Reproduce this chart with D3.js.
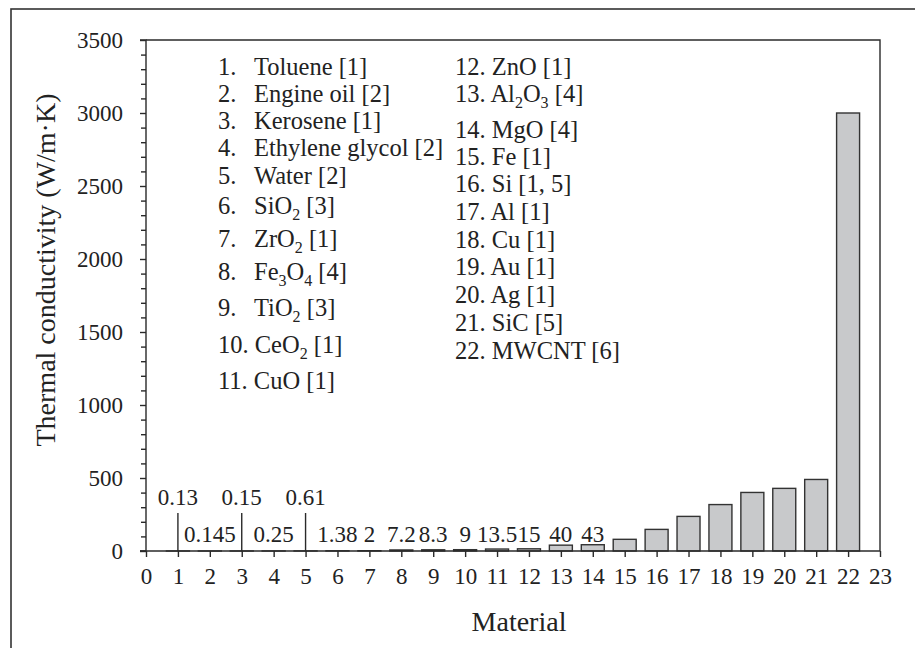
<!DOCTYPE html>
<html>
<head>
<meta charset="utf-8">
<script src="https://cdn.jsdelivr.net/npm/d3@7"></script>
<style>
  html, body { margin: 0; padding: 0; background: #fff; }
  svg { display: block; }
  text { font-family: "Liberation Serif", "DejaVu Serif", serif; fill: #222; }
</style>
</head>
<body>
<svg id="chart" width="915" height="648"></svg>
<script>
// Material index on the x axis (1..22)
const materials = [1, 2, 3, 4, 5, 6, 7, 8, 9, 10, 11, 12, 13, 14, 15, 16, 17, 18, 19, 20, 21, 22];
// Thermal conductivity, W/(m·K)
const conductivity = [0.13, 0.145, 0.15, 0.25, 0.61, 1.38, 2, 7.2, 8.3, 9, 13.5, 15, 40, 43,
                      80, 148, 237, 318, 401, 429, 490, 3000];
// Printed value labels (only the first 14 are annotated)
const valueLabels = ["0.13", "0.145", "0.15", "0.25", "0.61", "1.38", "2", "7.2", "8.3", "9",
                     "13.5", "15", "40", "43"];
// Legend entries; "_n" marks a subscript digit
const legendNames = ["Toluene [1]", "Engine oil [2]", "Kerosene [1]", "Ethylene glycol [2]",
  "Water [2]", "SiO_2 [3]", "ZrO_2 [1]", "Fe_3O_4 [4]", "TiO_2 [3]", "CeO_2 [1]", "CuO [1]",
  "ZnO [1]", "Al_2O_3 [4]", "MgO [4]", "Fe [1]", "Si [1, 5]", "Al [1]", "Cu [1]", "Au [1]",
  "Ag [1]", "SiC [5]", "MWCNT [6]"];
const xTicks = d3.range(0, 24);
const yMajorTicks = [0, 500, 1000, 1500, 2000, 2500, 3000, 3500];
const yMinorStep = 100;

const svg = d3.select("#chart");
const INK = "#2a2a2a";

// outer frame
svg.append("rect")
  .attr("x", 11).attr("y", 9).attr("width", 930).attr("height", 660)
  .attr("fill", "none").attr("stroke", "#333").attr("stroke-width", 1.6);

const plot = { left: 146, right: 880, top: 40, bottom: 551 };
const x = d3.scaleLinear().domain([0, 23]).range([plot.left, plot.right]);
const y = d3.scaleLinear().domain([0, 3500]).range([plot.bottom, plot.top]);
const barW = (x(1) - x(0)) * 0.72;

// plot box (top and right edges)
svg.append("path")
  .attr("d", `M${plot.left},${plot.top}H${plot.right}V${plot.bottom}`)
  .attr("fill", "none").attr("stroke", INK).attr("stroke-width", 1.4);

// bars
svg.append("g").selectAll("rect")
  .data(materials)
  .join("rect")
  .attr("x", (d) => x(d) - barW / 2)
  .attr("y", (d, i) => y(conductivity[i]))
  .attr("width", barW)
  .attr("height", (d, i) => y(0) - y(conductivity[i]))
  .attr("fill", "#c8c9cb")
  .attr("stroke", "#333")
  .attr("stroke-width", 1.4);

// y axis: minor ticks every 100, labels on the 500s
const yAxis = d3.axisLeft(y)
  .tickValues(d3.range(0, 3500 + 1, yMinorStep))
  .tickSize(5)
  .tickPadding(18)
  .tickFormat((d) => (yMajorTicks.includes(d) ? d : ""));
const gy = svg.append("g").attr("transform", `translate(${plot.left},0)`).call(yAxis);
gy.select(".domain").attr("d", `M-6,${plot.top}H0V${plot.bottom}H-6`);
gy.selectAll(".tick").filter((d) => yMajorTicks.includes(d)).select("line").attr("x2", -6);
gy.selectAll(".tick").filter((d) => !yMajorTicks.includes(d)).select("text").remove();

// x axis
const xAxis = d3.axisBottom(x).tickValues(xTicks).tickSize(6).tickPadding(11).tickFormat(d3.format("d"));
const gx = svg.append("g").attr("transform", `translate(0,${plot.bottom})`).call(xAxis);

[gx, gy].forEach((g) => {
  g.selectAll("path, line").attr("stroke", INK).attr("stroke-width", 1.4);
  g.selectAll("text").style("font-family", '"Liberation Serif", serif').style("font-size", "23px").attr("fill", "#222");
});
gx.select(".domain").attr("d", `M${plot.left - 6},0H${plot.right}`);

// value labels: odd materials 1,3,5 sit on a raised row with a leader line
const raised = (m) => m <= 5 && m % 2 === 1;
const labelG = svg.append("g");
valueLabels.forEach((t, i) => {
  const m = materials[i];
  labelG.append("text")
    .attr("x", x(m))
    .attr("y", raised(m) ? 505 : 542)
    .attr("text-anchor", "middle")
    .style("font-size", "23px")
    .text(t);
  if (raised(m)) {
    labelG.append("line")
      .attr("x1", x(m)).attr("x2", x(m))
      .attr("y1", 513).attr("y2", y(conductivity[i]))
      .attr("stroke", INK).attr("stroke-width", 1.4);
  }
});

// legend text with subscript digits
function addRich(sel, str) {
  const parts = str.split(/_(\d)/);
  let shift = 0;
  parts.forEach((p, k) => {
    if (!p) return;
    const sub = k % 2 === 1;
    const dy = (sub ? 6 : 0) - shift;
    shift = sub ? 6 : 0;
    const ts = sel.append("tspan").text(p);
    if (dy) ts.attr("dy", dy);
    if (sub) ts.style("font-size", "16px");
  });
}
const col1Y = [75, 102, 129, 156, 184, 214, 247, 280, 316, 353, 389];
const col2Y = [75, 102, 138, 165, 192, 220, 248, 275, 303, 331, 359];
const legend = svg.append("g").style("font-size", "24.5px");
legendNames.forEach((name, i) => {
  const n = materials[i];
  if (i < 9) {
    legend.append("text").attr("x", 218).attr("y", col1Y[i]).text(n + ".");
    addRich(legend.append("text").attr("x", 254).attr("y", col1Y[i]), name);
  } else if (i < 11) {
    addRich(legend.append("text").attr("x", 218).attr("y", col1Y[i]), n + ". " + name);
  } else {
    addRich(legend.append("text").attr("x", 455).attr("y", col2Y[i - 11]), n + ". " + name);
  }
});

// axis titles
svg.append("text")
  .attr("transform", `translate(55,270) rotate(-90)`)
  .attr("text-anchor", "middle")
  .style("font-size", "28px")
  .text("Thermal conductivity (W/m\u00b7K)");
svg.append("text")
  .attr("x", 519).attr("y", 631)
  .attr("text-anchor", "middle")
  .style("font-size", "28px")
  .text("Material");
</script>
</body>
</html>
